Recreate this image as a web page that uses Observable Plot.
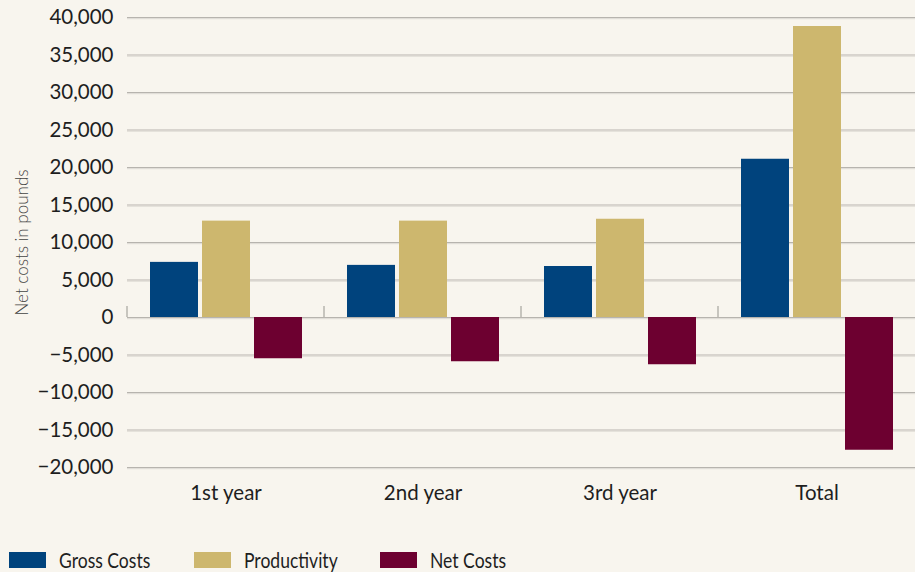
<!DOCTYPE html>
<html>
<head>
<meta charset="utf-8">
<script src="https://cdn.jsdelivr.net/npm/d3@7"></script>
<script src="https://cdn.jsdelivr.net/npm/@observablehq/plot@0.6"></script>
<style>
  html, body { margin: 0; padding: 0; background: #f8f5ee; }
  body { width: 915px; height: 572px; overflow: hidden; font-family: Lato, sans-serif; }
  #legend { position: relative; height: 30px; font-size: 21px; color: #1e1e1e; }
  .item { position: absolute; top: 17px; display: flex; align-items: center; }
  .sw { width: 37px; height: 16px; margin-right: 13px; }
  .lt { display: inline-block; transform: scaleX(0.835); transform-origin: left center; white-space: nowrap; }
</style>
</head>
<body>
<div id="chart"></div>
<div id="legend"></div>
<script>
const categories = ["1st year", "2nd year", "3rd year", "Total"];
const series = ["Gross Costs", "Productivity", "Net Costs"];
const grossCosts = [7350, 6950, 6800, 21100];
const productivity = [12850, 12850, 13100, 38800];
const netCosts = [-5500, -5900, -6300, -17700];
const yTicks = [-20000, -15000, -10000, -5000, 0, 5000, 10000, 15000, 20000, 25000, 30000, 35000, 40000];
const colors = ["#00437d", "#cdb76e", "#6d0030"];
const yTitle = "Net costs in pounds";
const legendLeft = [9, 194, 380];

const seriesValues = [grossCosts, productivity, netCosts];
const data = [];
categories.forEach((c, i) => {
  series.forEach((s, j) => data.push({category: c, series: s, value: seriesValues[j][i]}));
});

const gridColor = "#b7b4ae";

const separators = (index, scales, values, dimensions) => {
  const x0 = scales.x.range()[0];
  const y0 = scales.y(0);
  const g = d3.create("svg:g");
  g.append("line")
    .attr("x1", x0).attr("x2", x0)
    .attr("y1", y0 - 11).attr("y2", y0)
    .attr("stroke", gridColor).attr("stroke-width", 1.5);
  return g.node();
};

const chart = Plot.plot({
  width: 915,
  height: 530,
  marginLeft: 127,
  marginRight: 0,
  marginTop: 17,
  marginBottom: 63,
  style: {background: "transparent", fontFamily: "Lato, sans-serif", fontSize: "20.5px", color: "#1e1e1e"},
  fx: {domain: categories, padding: 0, label: null},
  x: {domain: series, paddingInner: 0.086, paddingOuter: 0.42, axis: null},
  y: {domain: [-20000, 40000], ticks: yTicks},
  color: {domain: series, range: colors},
  marks: [
    Plot.gridY(yTicks, {stroke: gridColor, strokeOpacity: 1, strokeWidth: 1.2}),
    Plot.gridY(yTicks, {stroke: "#dcd9d3", strokeOpacity: 1, dy: 1.2}),
    Plot.barY(data, {fx: "category", x: "series", y: "value", fill: "series"}),
    separators,
    Plot.axisY(yTicks, {tickSize: 0, tickPadding: 14, tickFormat: d3.format(","), line: true, stroke: gridColor, fill: "#1e1e1e", label: null, fontSize: 20.5}),
    Plot.axisY([], {label: yTitle, labelAnchor: "center", labelArrow: "none", labelOffset: 112, fontSize: 17, fontWeight: 300, fill: "#444"}),
    Plot.axisFx({anchor: "bottom", tickSize: 0, tickPadding: 18, label: null, fontSize: 20.5, fill: "#1e1e1e"})
  ]
});
document.getElementById("chart").append(chart);

const legend = document.getElementById("legend");
series.forEach((s, i) => {
  const item = document.createElement("div");
  item.className = "item";
  item.style.left = legendLeft[i] + "px";
  const sw = document.createElement("div");
  sw.className = "sw";
  sw.style.background = colors[i];
  const t = document.createElement("span");
  t.className = "lt";
  t.textContent = s;
  item.append(sw, t);
  legend.append(item);
});
</script>
</body>
</html>
